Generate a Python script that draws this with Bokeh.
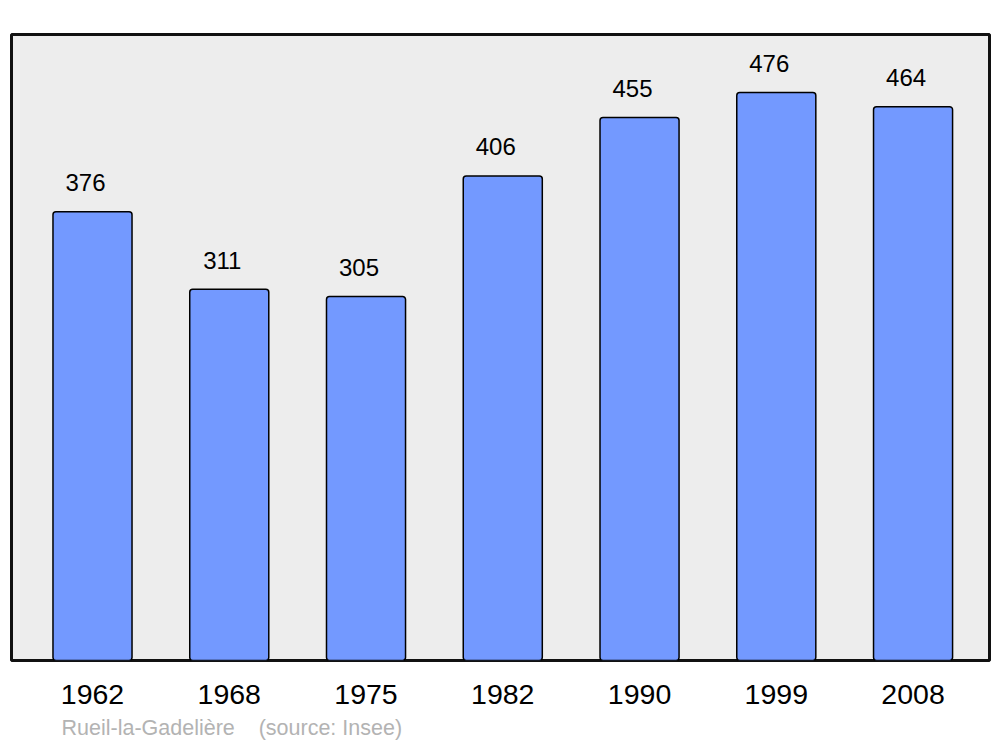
import numpy as np
from bokeh.plotting import figure
from bokeh.models import ColumnDataSource, FixedTicker, Title, Range1d
from bokeh.core.properties import value
from bokeh.embed import file_html
from bokeh.resources import INLINE

years = ["1962", "1968", "1975", "1982", "1990", "1999", "2008"]
population = [376, 311, 305, 406, 455, 476, 464]
commune = "Rueil-la-Gadelière"
source_text = "(source: Insee)"

xs = np.arange(len(years))
src = ColumnDataSource(dict(x=xs, top=population, lab=[str(v) for v in population]))

x0, x1 = -0.5923, 6.559
y0, y1 = 0, 524.5

p = figure(width=1000, height=747, output_backend="svg", toolbar_location=None,
           x_range=Range1d(x0, x1), y_range=Range1d(y0, y1),
           min_border_left=11, min_border_right=11, min_border_top=34, min_border_bottom=87)
p.background_fill_color = "#ededed"
p.border_fill_color = "white"
p.outline_line_color = "#111111"
p.outline_line_width = 3
p.grid.visible = False
p.yaxis.visible = False

p.vbar(x="x", top="top", bottom=0, width=0.578, source=src,
       fill_color="#7399ff", line_color="black", line_width=1.5, border_radius=3)

p.text(x="x", y="top", text="lab", source=src, x_offset=-7, y_offset=-29,
       text_align="center", text_baseline="alphabetic",
       text_font=value("Liberation Sans"), text_font_size="24px", text_color="black")

ax = p.xaxis[0]
ax.ticker = FixedTicker(ticks=list(xs))
ax.major_label_overrides = {int(i): y for i, y in zip(xs, years)}
ax.axis_line_color = None
ax.major_tick_line_color = None
ax.minor_tick_line_color = None
ax.major_tick_out = 0
ax.major_tick_in = 0
ax.major_label_standoff = 24
ax.major_label_text_font = "Liberation Sans"
ax.major_label_text_font_size = "28.5px"
ax.major_label_text_color = "black"

t = Title(text=commune + "\u00a0\u00a0\u00a0\u00a0" + source_text, align="left", offset=50,
          text_font="Liberation Sans", text_font_size="21.5px", text_font_style="normal",
          text_color="#b3b3b3", standoff=14)
p.add_layout(t, "below")

open("out.html", "w").write(file_html(p, INLINE))
